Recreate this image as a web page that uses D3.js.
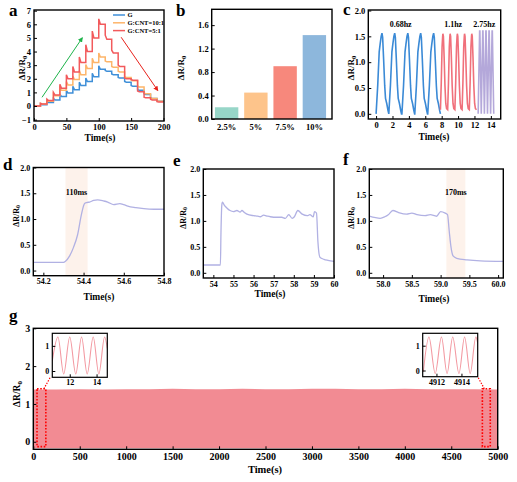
<!DOCTYPE html>
<html><head><meta charset="utf-8">
<script src="https://cdn.jsdelivr.net/npm/d3@7"></script>
<style>
body{margin:0;background:#fff;}
svg{display:block;}
</style></head><body>
<svg id="c" width="517" height="482"></svg>
<script>
// ---------------- DATA ----------------
// panel a: step loading/unloading (value at step start spike, then settled value)
const aStepStarts = [0,10,20,30,40,50,60,70,80,90,100,110,120,130,140,150,160,170,180,190];
const aEnd = 200;
const aNames = ["G","G:CNT=10:1","G:CNT=5:1"];
const aSpikeG    = [0,0.15,0.3,0.55,0.85,1.15,1.45,1.75,2.05,2.4,2.95,2.6,2.35,2.1,1.8,1.5,1.2,0.9,0.6,0.38];
const aSettleG   = [0,0.1,0.25,0.45,0.7,0.95,1.2,1.5,1.8,2.15,2.7,2.55,2.3,2.05,1.75,1.45,1.15,0.85,0.55,0.35];
const aSpikeC10  = [0,0.2,0.45,0.9,1.35,1.8,2.2,2.6,3.05,3.5,3.9,3.3,2.9,2.55,2.15,1.9,1.45,0.95,0.6,0.38];
const aSettleC10 = [0,0.15,0.35,0.75,1.15,1.55,1.95,2.3,2.75,3.2,3.6,3.25,2.85,2.5,2.1,1.85,1.4,0.9,0.55,0.35];
const aSpikeC5   = [0,0.2,0.5,1.0,1.6,2.3,2.9,3.6,4.5,5.5,6.4,5.2,4.1,3.0,2.05,1.95,1.1,0.65,0.5,0.32];
const aSettleC5  = [0,0.15,0.4,0.8,1.3,2.0,2.5,3.2,4.0,5.0,6.0,4.9,3.9,2.9,2.0,1.9,1.05,0.6,0.45,0.3];
const aXTicks = [0,50,100,150,200];
const aYTicks = [-1,0,1,2,3,4,5,6,7];

// panel b: strain levels
const bCats = ["2.5%","5%","7.5%","10%"];
const bVals = [0.2,0.45,0.9,1.43];
const bYTicks = [0,0.4,0.8,1.2,1.6];

// panel c: frequency response (one cycle shape per frequency + cycle start times)
const cBlueCycle   = [[0,0],[0.2,0.55],[0.38,1.2],[0.5,1.36],[0.62,1.5],[0.72,1.56],[0.8,1.48],[0.92,1.05],[1.05,0.55],[1.15,0.3],[1.3,0.2],[1.45,0.07],[1.55,0]];
const cBlueStarts  = [0,1.55,3.15,4.72,6.3];
const cRedCycle    = [[0,0.08],[0.1,0.6],[0.2,1.3],[0.27,1.5],[0.3,1.55],[0.36,1.5],[0.45,1.1],[0.55,0.55],[0.65,0.2],[0.75,0.1],[0.88,0.08]];
const cRedStarts   = [7.85,8.73,9.61,10.49,11.37];
const cPurpleCycle = [[0,0],[0.18,1.6],[0.21,1.6],[0.38,0]];
const cPurpleStarts= [12.45,12.83,13.21,13.59,13.97];
const cFreqLabels  = [["0.68hz",3.0],["1.1hz",9.4],["2.75hz",13.2]];
const cXTicks = [0,2,4,6,8,10,12,14];
const cYTicks = [0,0.5,1.0,1.5,2.0];

// panel d: response time
const dT = [54.15,54.3,54.31,54.33,54.35,54.37,54.39,54.405,54.415,54.43,54.45,54.47,54.5,54.52,54.55,54.58,54.6,54.62,54.66,54.7,54.75,54.8];
const dV = [0.16,0.16,0.18,0.28,0.45,0.69,1.1,1.3,1.32,1.33,1.36,1.37,1.35,1.33,1.28,1.3,1.28,1.25,1.22,1.2,1.19,1.19];
const dShade = [54.31,54.42];
const dXTicks = [54.2,54.4,54.6,54.8];

// panel e: single hold
const eT = [53.5,54.35,54.38,54.42,54.45,54.55,54.67,54.83,55.0,55.17,55.33,55.42,55.55,55.67,56.0,56.2,56.33,56.5,56.7,56.83,57.17,57.4,57.58,57.75,57.92,58.03,58.2,58.42,58.67,58.8,58.97,59.03,59.13,59.2,59.3,59.5,59.7,60.0];
const eV = [0.15,0.15,0.8,1.3,1.36,1.3,1.25,1.2,1.18,1.2,1.17,1.2,1.16,1.13,1.1,1.09,1.08,1.11,1.09,1.08,1.07,1.07,1.05,1.12,1.05,1.08,1.2,1.13,1.1,1.12,1.08,1.18,1.15,0.6,0.3,0.26,0.24,0.22];
const eXTicks = [54,55,56,57,58,59,60];

// panel f: recovery time
const fT = [57.76,57.95,58.03,58.09,58.17,58.27,58.41,58.5,58.59,58.73,58.82,58.93,59.0,59.08,59.12,59.15,59.18,59.22,59.28,59.46,59.69,60.09];
const fV = [1.09,1.05,1.08,1.12,1.2,1.16,1.13,1.15,1.12,1.1,1.12,1.09,1.18,1.15,1.12,0.8,0.5,0.32,0.28,0.25,0.23,0.22];
const fShade = [59.1,59.43];
const fXTicks = [58.0,58.5,59.0,59.5,60.0];

// panel g: long-term cycling
const gT   = [0,250,500,750,1000,1250,1500,1750,2000,2250,2500,2750,3000,3250,3500,3750,4000,4250,4500,4750,5000];
const gTop = [1.38,1.38,1.39,1.38,1.39,1.39,1.40,1.39,1.39,1.40,1.39,1.39,1.40,1.40,1.39,1.39,1.40,1.39,1.39,1.39,1.38];
const gBottom = -0.17;
const gXTicks = [0,500,1000,1500,2000,2500,3000,3500,4000,4500,5000];
const gYTicks = [0,1,2,3];
const gZoomL = [40,135];
const gZoomR = [4835,4920];
const gInsetL = [[10.7,0.4],[11.12,1.35],[11.55,-0.12],[12.0,1.35],[12.45,-0.12],[12.88,1.35],[13.3,-0.12],[13.75,1.35],[14.17,-0.12],[14.6,1.35],[14.8,0.9]];
const gInsetR = [[4910.95,-0.05],[4911.4,1.35],[4911.9,-0.12],[4912.4,1.35],[4912.85,-0.12],[4913.3,1.35],[4913.8,-0.12],[4914.25,1.35],[4914.7,-0.12],[4915.15,1.35],[4915.3,1.1]];

// ---------------- DRAWING ----------------
const FONT = '"Liberation Serif","Times New Roman",serif';
const svg = d3.select("#c").attr("font-family", FONT).attr("font-weight", "bold");
let clipId = 0;
const fmt1 = d3.format(".1f");
const fmtInt = d3.format("d");

function styleAxis(g, fs) {
  g.attr("font-family", FONT).attr("font-size", fs).attr("font-weight", "bold");
  g.select(".domain").remove();
  g.selectAll(".tick line").attr("stroke", "#000").attr("stroke-width", 1);
  g.selectAll(".tick text").attr("fill", "#000");
}
function axes(box, x, y, o) {
  const ax = d3.axisBottom(x).tickSizeInner(o.xTick ?? -3).tickSizeOuter(0).tickPadding(o.xPad ?? 3)
    .tickValues(o.xTicks).tickFormat(o.xFmt || fmtInt);
  styleAxis(svg.append("g").attr("transform", `translate(0,${box.y1})`).call(ax), o.fs);
  const ay = d3.axisLeft(y).tickSizeInner(-3).tickSizeOuter(0).tickPadding(o.yPad ?? 3)
    .tickValues(o.yTicks).tickFormat(o.yFmt || fmtInt);
  styleAxis(svg.append("g").attr("transform", `translate(${box.x0},0)`).call(ay), o.fs);
}
function frame(box, sw) {
  svg.append("rect").attr("x", box.x0).attr("y", box.y0)
    .attr("width", box.x1 - box.x0).attr("height", box.y1 - box.y0)
    .attr("fill", "none").attr("stroke", "#000").attr("stroke-width", sw ?? 1.4);
}
function clip(box) {
  const id = "clip" + (clipId++);
  svg.append("clipPath").attr("id", id).append("rect")
    .attr("x", box.x0).attr("y", box.y0).attr("width", box.x1 - box.x0).attr("height", box.y1 - box.y0);
  return svg.append("g").attr("clip-path", `url(#${id})`);
}
function ylab(cx, cy, fs) {
  const t = svg.append("text").attr("transform", `translate(${cx},${cy}) rotate(-90)`)
    .attr("text-anchor", "middle").attr("dominant-baseline", "central").attr("font-size", fs);
  t.append("tspan").text("\u0394R/R");
  t.append("tspan").attr("font-size", fs * 0.72).attr("dy", fs * 0.3).text("0");
}
function xlab(cx, y, fs) {
  svg.append("text").attr("x", cx).attr("y", y).attr("text-anchor", "middle").attr("font-size", fs).text("Time(s)");
}
function letter(ch, x, y) {
  svg.append("text").attr("x", x).attr("y", y).attr("font-size", 17).text(ch);
}

// ---- panel a ----
{
  const box = {x0: 34, x1: 164, y0: 10, y1: 121};
  const x = d3.scaleLinear().domain([0, 200]).range([34, 163.5]);
  const y = d3.scaleLinear().domain([-1.1, 7.05]).range([121, 10]);
  const colors = ["#3f8fd8", "#fdb56a", "#f25a5c"];
  const spikes = [aSpikeG, aSpikeC10, aSpikeC5];
  const settles = [aSettleG, aSettleC10, aSettleC5];
  const g = clip(box);
  const line = d3.line().x(d => x(d[0])).y(d => y(d[1]));
  spikes.forEach((sp, i) => {
    const pts = [];
    aStepStarts.forEach((t, k) => {
      const tn = k + 1 < aStepStarts.length ? aStepStarts[k + 1] : aEnd;
      pts.push([t, sp[k]], [t + 2.5, settles[i][k]], [tn, settles[i][k]]);
    });
    g.append("path").attr("d", line(pts)).attr("fill", "none").attr("stroke", colors[i]).attr("stroke-width", 1.5);
  });
  axes(box, x, y, {xTicks: aXTicks, yTicks: aYTicks, fs: 8.5});
  frame(box);
  // legend
  aNames.forEach((n, i) => {
    const ly = 15 + i * 7.8;
    svg.append("line").attr("x1", 113).attr("x2", 125).attr("y1", ly).attr("y2", ly).attr("stroke", colors[i]).attr("stroke-width", 1.5);
    svg.append("text").attr("x", 127.5).attr("y", ly + 2.3).attr("font-size", 6.5).text(n);
  });
  // arrows
  const defs = svg.append("defs");
  [["arrG", "#1db34a"], ["arrR", "#e8221c"]].forEach(([id, c]) => {
    defs.append("marker").attr("id", id).attr("viewBox", "0 0 10 10").attr("refX", 8).attr("refY", 5)
      .attr("markerWidth", 5).attr("markerHeight", 5).attr("orient", "auto")
      .append("path").attr("d", "M0,0L10,5L0,10z").attr("fill", c);
  });
  svg.append("line").attr("x1", x(12.4)).attr("y1", y(0.64)).attr("x2", x(74.5)).attr("y2", y(5.0))
    .attr("stroke", "#1db34a").attr("stroke-width", 1).attr("marker-end", "url(#arrG)");
  svg.append("line").attr("x1", x(134.6)).attr("y1", y(5.05)).attr("x2", x(191)).attr("y2", y(1.15))
    .attr("stroke", "#e8221c").attr("stroke-width", 1).attr("marker-end", "url(#arrR)");
  ylab(21.5, 68, 9);
  xlab(100, 141, 9.5);
  letter("a", 9, 16);
}

// ---- panel b ----
{
  const box = {x0: 211.7, x1: 332, y0: 9.3, y1: 119};
  const x = d3.scaleBand().domain(bCats).range([212, 329]).paddingInner(0.2).paddingOuter(0.1);
  const y = d3.scaleLinear().domain([0, 1.87]).range([119, 9.3]);
  const colors = ["#97d6c8", "#fdc48b", "#f7887c", "#8db7dc"];
  svg.append("g").selectAll("rect").data(bVals).join("rect")
    .attr("x", (d, i) => x(bCats[i])).attr("width", x.bandwidth())
    .attr("y", d => y(d)).attr("height", d => y(0) - y(d)).attr("fill", (d, i) => colors[i]);
  const ax = d3.axisBottom(x).tickSize(0).tickPadding(5);
  styleAxis(svg.append("g").attr("transform", `translate(0,${box.y1})`).call(ax), 8.5);
  const ay = d3.axisLeft(y).tickValues(bYTicks).tickFormat(fmt1).tickSizeInner(-3).tickSizeOuter(0).tickPadding(3);
  styleAxis(svg.append("g").attr("transform", `translate(${box.x0},0)`).call(ay), 8.5);
  frame(box);
  ylab(180.5, 68, 9);
  letter("b", 176, 16);
}

// ---- panel c ----
{
  const box = {x0: 368.3, x1: 500.7, y0: 10, y1: 119};
  const x = d3.scaleLinear().domain([-0.95, 15.2]).range([368.3, 500.7]);
  const y = d3.scaleLinear().domain([-0.1, 2.0]).range([119, 10.5]);
  const g = clip(box);
  const line = d3.line().x(d => x(d[0])).y(d => y(d[1]));
  const build = (starts, cyc) => { const p = []; starts.forEach(s => cyc.forEach(([dt, v]) => p.push([s + dt, v]))); return p; };
  [[cBlueStarts, cBlueCycle, "#3b8ad6"], [cRedStarts, cRedCycle, "#f0707b"], [cPurpleStarts, cPurpleCycle, "#b4a8da"]]
    .forEach(([s, cyc, col]) => g.append("path").attr("d", line(build(s, cyc))).attr("fill", "none").attr("stroke", col).attr("stroke-width", 1.6));
  axes(box, x, y, {xTicks: cXTicks, yTicks: cYTicks, yFmt: fmt1, fs: 8.5});
  frame(box);
  cFreqLabels.forEach(([t, xv]) => svg.append("text").attr("x", x(xv)).attr("y", 27).attr("text-anchor", "middle").attr("font-size", 8).text(t));
  ylab(350.5, 68, 9);
  xlab(434, 140, 9.5);
  letter("c", 343, 15);
}

// ---- panels d, e, f ----
function respPanel(box, xDom, T, V, xTicks, xFmt, shade, shadeLabel) {
  const x = d3.scaleLinear().domain(xDom).range([box.x0, box.x1]);
  const y = d3.scaleLinear().domain([-0.1, 2.0]).range([box.y1, box.y0]);
  const g = clip(box);
  if (shade) {
    g.append("rect").attr("x", x(shade[0])).attr("width", x(shade[1]) - x(shade[0]))
      .attr("y", box.y0).attr("height", box.y1 - box.y0).attr("fill", "#fdf2eb");
  }
  const line = d3.line().x((d, i) => x(T[i])).y(d => y(d)).curve(d3.curveMonotoneX);
  g.append("path").attr("d", line(V)).attr("fill", "none").attr("stroke", "#b1b1e3").attr("stroke-width", 1.3);
  axes(box, x, y, {xTicks, xFmt, yTicks: cYTicks, yFmt: fmt1, fs: 8});
  frame(box);
  if (shadeLabel) svg.append("text").attr("x", x((shade[0] + shade[1]) / 2)).attr("y", 195).attr("text-anchor", "middle").attr("font-size", 8).text(shadeLabel);
}
respPanel({x0: 33.3, x1: 164, y0: 167.5, y1: 275.7}, [54.15, 54.8], dT, dV, dXTicks, fmt1, dShade, "110ms");
ylab(16, 216, 8); xlab(99, 300, 9.5); letter("d", 3, 170);
respPanel({x0: 203.3, x1: 334, y0: 169, y1: 278}, [53.5, 60], eT, eV, eXTicks, fmtInt, null, null);
ylab(183, 218, 8); xlab(270, 297, 9.5); letter("e", 173, 166);
respPanel({x0: 369.3, x1: 503.3, y0: 169, y1: 278}, [57.76, 60.09], fT, fV, fXTicks, fmt1, fShade, "170ms");
ylab(351, 218, 8); xlab(434, 302, 9.5); letter("f", 343, 165);

// ---- panel g ----
{
  const box = {x0: 33.3, x1: 497.7, y0: 328.3, y1: 449.3};
  const x = d3.scaleLinear().domain([0, 5000]).range([33.3, 497.7]);
  const y = d3.scaleLinear().domain([-0.2, 3]).range([449.3, 328.3]);
  const g = clip(box);
  const area = d3.area().x((d, i) => x(gT[i])).y0(y(gBottom)).y1(d => y(d));
  g.append("path").attr("d", area(gTop)).attr("fill", "#f28b93");
  axes(box, x, y, {xTicks: gXTicks, yTicks: gYTicks, fs: 10, xPad: 3.5});
  frame(box);
  // dotted zoom rectangles
  [gZoomL, gZoomR].forEach(z => {
    svg.append("rect").attr("x", x(z[0])).attr("width", x(z[1]) - x(z[0]))
      .attr("y", y(1.4)).attr("height", y(-0.13) - y(1.4))
      .attr("fill", "none").attr("stroke", "#ff0000").attr("stroke-width", 1.6).attr("stroke-dasharray", "1.6,1.6");
  });
  // insets
  const insets = [
    {box: {x0: 52.3, x1: 107.3, y0: 333.3, y1: 377.3}, dom: [10.7, 14.8], data: gInsetL, ticks: [12, 14], from: [x(gZoomL[1]) - 2, y(1.4)], to: [52.3 - 2, 377.3]},
    {box: {x0: 422.7, x1: 477.7, y0: 333.3, y1: 376.7}, dom: [4910.9, 4915.3], data: gInsetR, ticks: [4912, 4914], from: [x(gZoomR[0]) + 2, y(1.4)], to: [477.7, 376.7]}
  ];
  insets.forEach(ins => {
    svg.append("line").attr("x1", ins.from[0]).attr("y1", ins.from[1]).attr("x2", ins.to[0]).attr("y2", ins.to[1])
      .attr("stroke", "#ff0000").attr("stroke-width", 1.2).attr("stroke-dasharray", "1.4,1.4");
    svg.append("rect").attr("x", ins.box.x0).attr("y", ins.box.y0).attr("width", ins.box.x1 - ins.box.x0)
      .attr("height", ins.box.y1 - ins.box.y0).attr("fill", "#fff");
    const ix = d3.scaleLinear().domain(ins.dom).range([ins.box.x0, ins.box.x1]);
    const iy = d3.scaleLinear().domain([-0.25, 1.5]).range([ins.box.y1, ins.box.y0]);
    const ig = clip(ins.box);
    ig.append("path").attr("d", d3.line().x(d => ix(d[0])).y(d => iy(d[1])).curve(d3.curveMonotoneX)(ins.data))
      .attr("fill", "none").attr("stroke", "#f39aa2").attr("stroke-width", 1.1);
    axes(ins.box, ix, iy, {xTicks: ins.ticks, yTicks: [0, 1], fs: 8, xPad: 2.5, yPad: 3});
    frame(ins.box, 1.2);
  });
  ylab(16.5, 394, 9.5);
  xlab(265, 473, 10.5);
  letter("g", 9, 321);
}
</script>
</body></html>
